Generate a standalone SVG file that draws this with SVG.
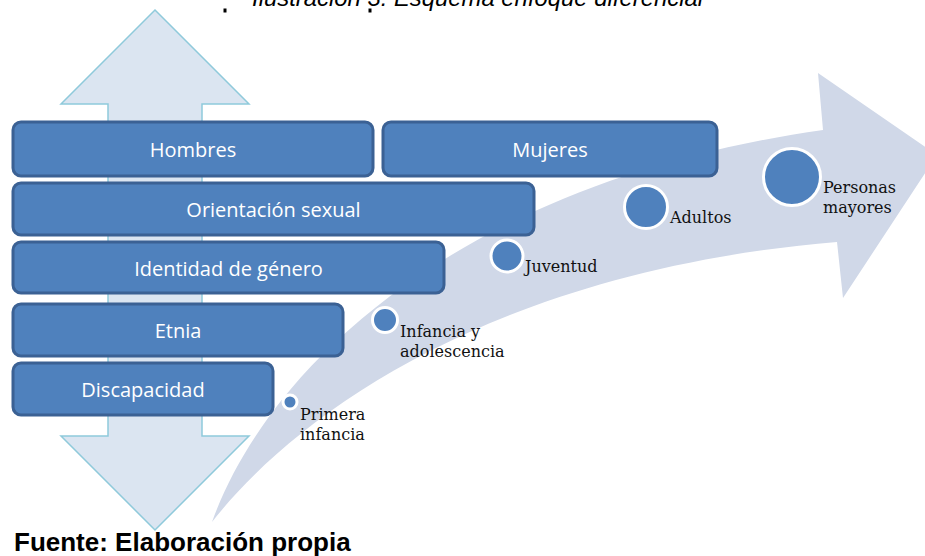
<svg xmlns="http://www.w3.org/2000/svg" width="925" height="556" viewBox="0 0 925 556">
<defs>
<style>
.box{fill:#4f81bd;stroke:#3b6194;stroke-width:3}
.bt{font-family:"Open Sans","DejaVu Sans",sans-serif;font-size:20px;fill:#ffffff;text-anchor:middle}
.dot{fill:#4f81bd;stroke:#ffffff;stroke-width:3}
.lb{font-family:"DejaVu Serif","Liberation Serif",serif;font-size:16px;fill:#111111}
</style>
</defs>
<rect width="925" height="556" fill="#ffffff"/>
<text x="252" y="5.5" font-family="Liberation Sans, Arial, sans-serif" font-style="italic" font-size="24" fill="#000" textLength="451" lengthAdjust="spacingAndGlyphs">Ilustración 3. Esquema enfoque diferencial</text>
<rect x="223.5" y="8.5" width="3" height="4" fill="#000"/>
<rect x="368.5" y="8.5" width="3" height="4" fill="#000"/>
<g id="connectors">
<path id="vertical-arrow" d="M155,10 L249,104 L202,104 L202,436 L249,436 L155,530 L61,436 L108,436 L108,104 L61,104 Z" fill="#dbe5f1" stroke="#8fcadb" stroke-width="1.5"/>
<path id="curved-arrow" d="M212,522 C270,360 470,180 823,130 L818,73 L937,155 L843,298 L837,242 C500,270 300,410 212,522 Z" fill="#d0d8e8"/>
</g>
<g id="hombres"><rect class="box" x="13" y="122" width="360" height="54" rx="8"/><text class="bt" x="193" y="157">Hombres</text></g>
<g id="mujeres"><rect class="box" x="383" y="122" width="334" height="54" rx="8"/><text class="bt" x="550" y="157">Mujeres</text></g>
<g id="orientacion"><rect class="box" x="13" y="183" width="521" height="52" rx="8"/><text class="bt" x="273.5" y="217">Orientación sexual</text></g>
<g id="identidad"><rect class="box" x="13" y="242" width="431" height="51" rx="8"/><text class="bt" x="228.5" y="276">Identidad de género</text></g>
<g id="etnia"><rect class="box" x="13" y="304" width="330" height="52" rx="8"/><text class="bt" x="178" y="338">Etnia</text></g>
<g id="discapacidad"><rect class="box" x="13" y="363" width="260" height="52" rx="8"/><text class="bt" x="143" y="397">Discapacidad</text></g>
<g id="primera-infancia"><circle class="dot" cx="290" cy="402" r="7"/><text class="lb" x="300" y="420">Primera</text><text class="lb" x="300" y="440">infancia</text></g>
<g id="infancia-adolescencia"><circle class="dot" cx="385" cy="320" r="12.5"/><text class="lb" x="400" y="337">Infancia y</text><text class="lb" x="400" y="357">adolescencia</text></g>
<g id="juventud"><circle class="dot" cx="507" cy="256" r="16"/><text class="lb" x="525" y="272">Juventud</text></g>
<g id="adultos"><circle class="dot" cx="646" cy="207" r="21.5"/><text class="lb" x="670" y="223">Adultos</text></g>
<g id="personas-mayores"><circle class="dot" cx="792" cy="177" r="28.5"/><text class="lb" x="823" y="193">Personas</text><text class="lb" x="823" y="213">mayores</text></g>
<text x="14" y="551" font-family="Liberation Sans, Arial, sans-serif" font-weight="bold" font-size="26" fill="#000">Fuente: Elaboración propia</text>
</svg>
